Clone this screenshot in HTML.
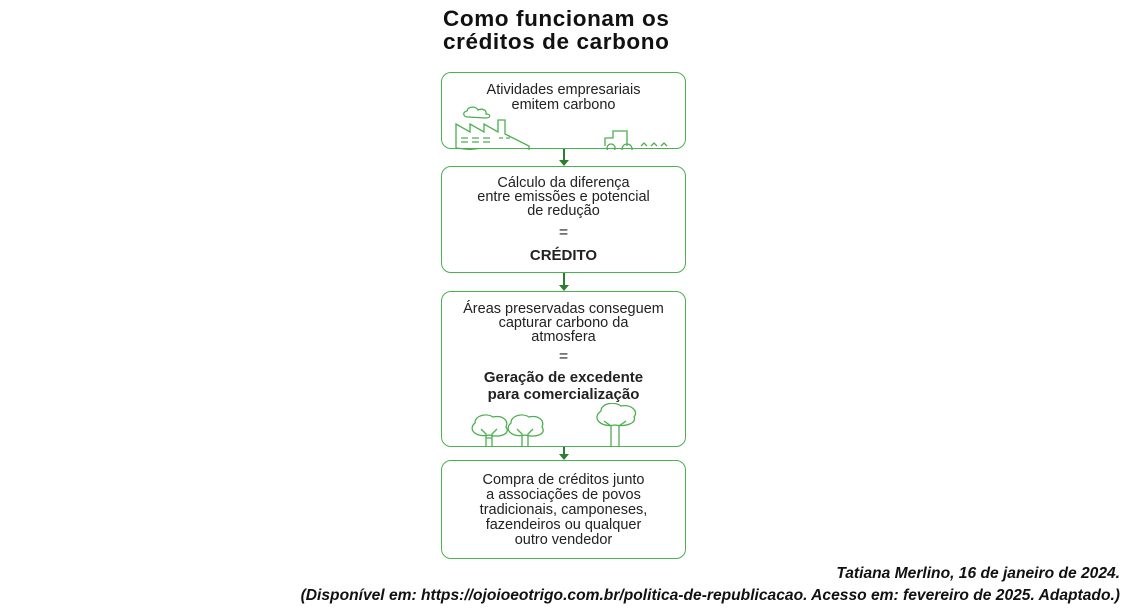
<!DOCTYPE html>
<html><head><meta charset="utf-8"><style>
body{margin:0;width:1128px;height:610px;background:#fff;position:relative;overflow:hidden;font-family:"Liberation Sans",sans-serif;}
.t{position:absolute;left:443px;top:7px;font-size:22.5px;font-weight:bold;line-height:23px;color:#111;letter-spacing:0.6px;}
.b{position:absolute;left:441px;width:245px;border:1.5px solid #4caf50;border-radius:10px;box-sizing:border-box;}
.tx{position:absolute;left:441px;width:245px;text-align:center;font-size:14.5px;line-height:14px;color:#222;}
.a{position:absolute;left:563px;width:1.5px;background:#2e7d32;}
.h{position:absolute;left:559px;width:0;height:0;border-left:5px solid transparent;border-right:5px solid transparent;border-top:6px solid #2e7d32;}
.c{position:absolute;right:8px;font-style:italic;font-weight:bold;font-size:15.6px;color:#111;}
</style></head><body>
<div class="t">Como funcionam os<br>créditos de carbono</div>

<div class="b" style="top:72px;height:77px"></div>
<div class="tx" style="top:83px;line-height:15px">Atividades empresariais<br>emitem carbono</div>
<svg style="position:absolute;left:441px;top:100px" width="245" height="50" fill="none" stroke="#4caf50" stroke-width="1.3">
<path d="M27 17c-5 0-6-5-1-6 1-5 9-5 11-1 4-2 9 0 8 4 5 0 5 4 0 4z"/>
<path d="M15 48V24l14 8v-8l14 8v-8l14 8v-12h7v14l24 12v10z"/>
<path d="M20 38h7M31 38h7M42 38h7M58 38h4M65 38h4M20 42h7M31 42h7M42 42h7"/>
<path d="M164 46v-8h8v-7h14v15M170 44a4 4 0 1 0 0.1 0M186 44a5 5 0 1 0 0.1 0"/>
<path d="M200 46l3-3 3 3M210 46l3-3 3 3M220 46l3-3 3 3"/>
</svg>
<div class="a" style="top:149px;height:12px"></div><div class="h" style="top:160px"></div>

<div class="b" style="top:166px;height:107px"></div>
<div class="tx" style="top:176px">Cálculo da diferença<br>entre emissões e potencial<br>de redução</div>
<div class="tx" style="top:226px;font-size:16px">=</div>
<div class="tx" style="top:249px;font-weight:bold;font-size:15px">CRÉDITO</div>
<div class="a" style="top:273px;height:12px"></div><div class="h" style="top:285px"></div>

<div class="b" style="top:291px;height:156px"></div>
<div class="tx" style="top:302px">Áreas preservadas conseguem<br>capturar carbono da<br>atmosfera</div>
<div class="tx" style="top:350px;font-size:16px">=</div>
<div class="tx" style="top:369px;font-weight:bold;font-size:15px;line-height:17px">Geração de excedente<br>para comercialização</div>
<svg style="position:absolute;left:441px;top:403px" width="245" height="44" fill="none" stroke="#4caf50" stroke-width="1.3">
<path d="M45 43v-12l-5-5M51 43v-12l5-5M45 35h6"/>
<path d="M48 32c-12 3-22-5-14-12 0-8 12-10 18-6 9-2 16 3 13 10 5 7-6 11-17 8z"/>
<path d="M81 43v-12l-5-5M87 43v-12l5-5"/>
<path d="M84 32c-12 3-22-5-14-12 0-8 12-10 18-6 9-2 16 3 13 10 5 7-6 11-17 8z"/>
<path d="M170 43v-20l-7-5M178 43v-20l7-5"/>
<path d="M174 22c-14 3-24-7-14-14 0-8 14-10 20-5 10-2 18 5 13 11 3 6-8 10-19 8z"/>
</svg>
<div class="a" style="top:447px;height:8px"></div><div class="h" style="top:454px"></div>

<div class="b" style="top:460px;height:99px"></div>
<div class="tx" style="top:473px;line-height:15px">Compra de créditos junto<br>a associações de povos<br>tradicionais, camponeses,<br>fazendeiros ou qualquer<br>outro vendedor</div>

<div class="c" style="top:565px">Tatiana Merlino, 16 de janeiro de 2024.</div>
<div class="c" style="top:587px">(Disponível em: https://ojoioeotrigo.com.br/politica-de-republicacao. Acesso em: fevereiro de 2025. Adaptado.)</div>
</body></html>
